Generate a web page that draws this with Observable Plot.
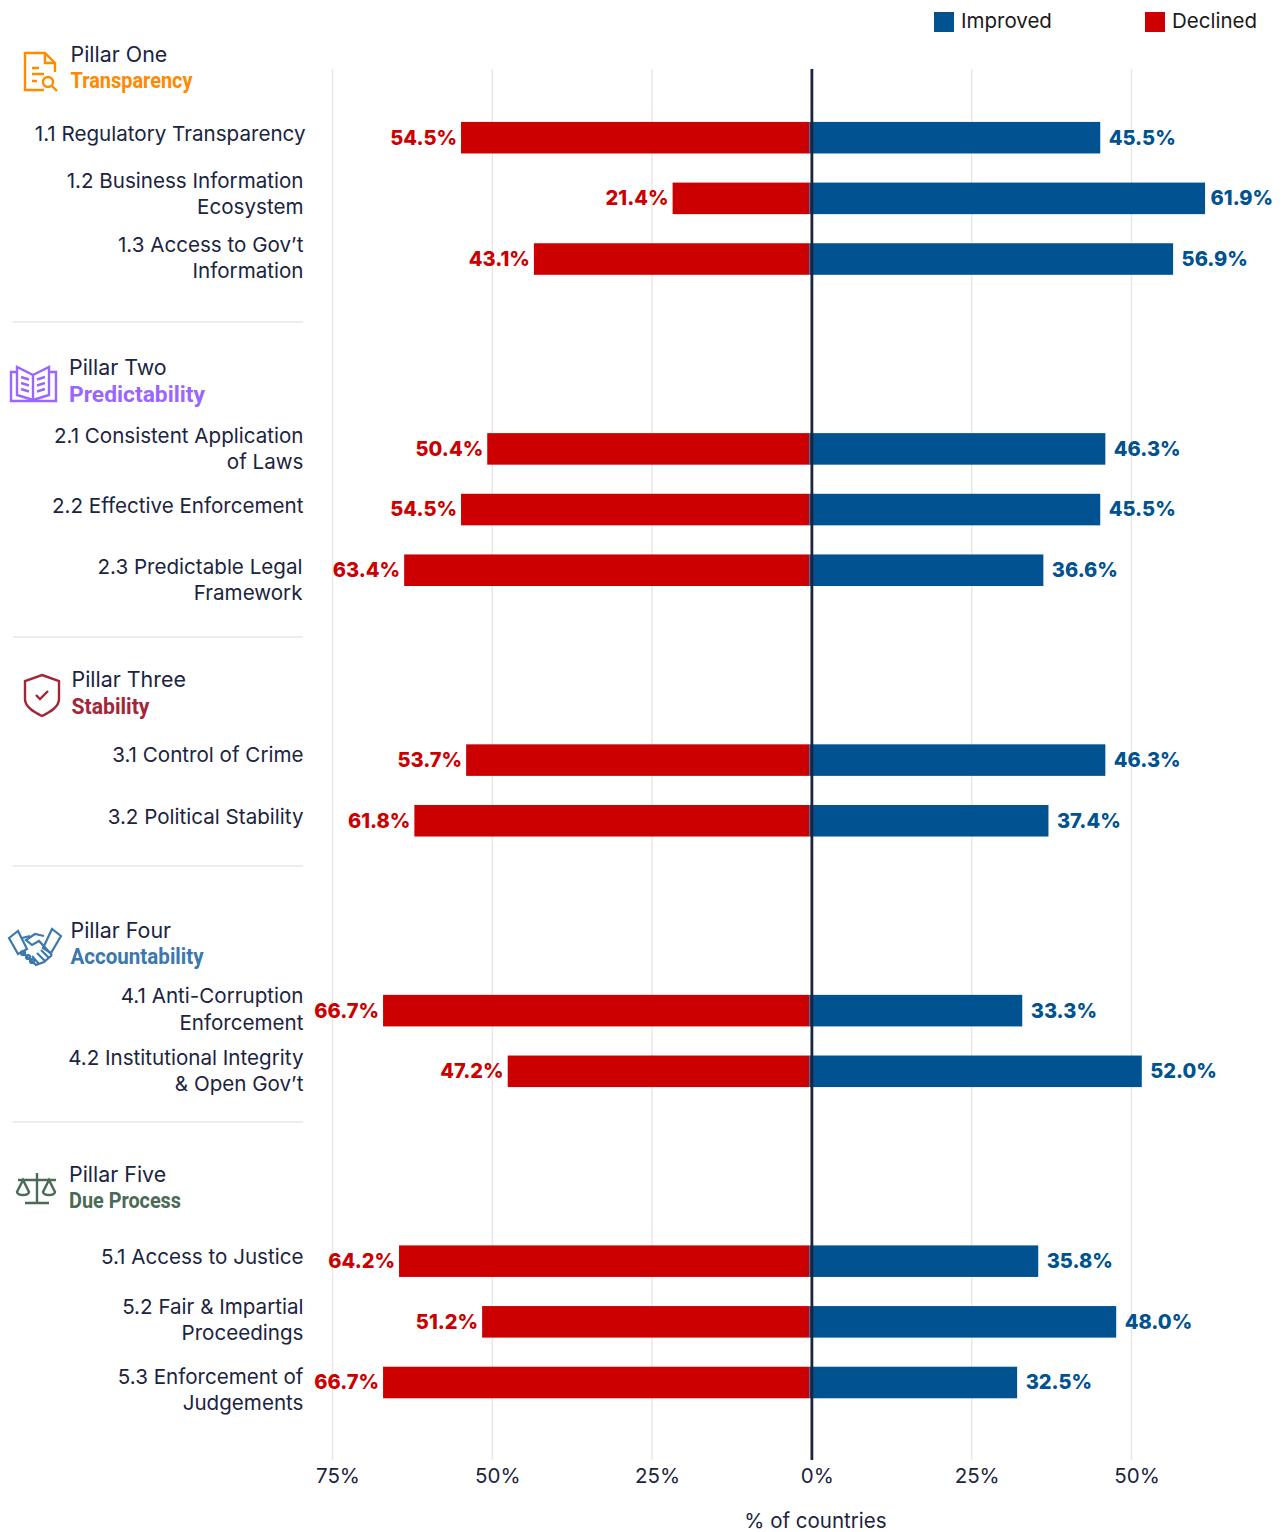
<!DOCTYPE html>
<html><head><meta charset="utf-8">
<script src="https://cdn.jsdelivr.net/npm/d3@7"></script>
<script src="https://cdn.jsdelivr.net/npm/@observablehq/plot@0.6"></script>
<style>
html,body{margin:0;padding:0;background:#fff}
#wrap{position:relative;width:1282px;height:1532px;overflow:hidden}
.lg{position:absolute;top:9px;font:20.5px Inter,sans-serif;color:#1a1a1a;line-height:24px}
.sw{position:absolute;top:12px;width:20px;height:20px}
</style></head><body><div id="wrap"></div>
<script>
const pillarNames = ["Pillar One","Pillar Two","Pillar Three","Pillar Four","Pillar Five"];
const pillarThemes = ["Transparency","Predictability","Stability","Accountability","Due Process"];
const pillarColors = ["#ff8a00","#9966ff","#a32638","#3a78ad","#4a6b55"];
const categories = ["1.1 Regulatory Transparency","1.2 Business Information\nEcosystem","1.3 Access to Gov’t\nInformation",
 "2.1 Consistent Application\nof Laws","2.2 Effective Enforcement","2.3 Predictable Legal\nFramework",
 "3.1 Control of Crime","3.2 Political Stability",
 "4.1 Anti-Corruption\nEnforcement","4.2 Institutional Integrity\n& Open Gov’t",
 "5.1 Access to Justice","5.2 Fair & Impartial\nProceedings","5.3 Enforcement of\nJudgements"];
const pillarOf = [0,0,0,1,1,1,2,2,3,3,4,4,4];
const improved = [45.5,61.9,56.9,46.3,45.5,36.6,46.3,37.4,33.3,52.0,35.8,48.0,32.5];
const declined = [54.5,21.4,43.1,50.4,54.5,63.4,53.7,61.8,66.7,47.2,64.2,51.2,66.7];
const tickValues = [-75,-50,-25,0,25,50];

// layout
const RED="#cc0000", BLUE="#005291", INK="#1b2440", RULE="#eae6e2";
const GAP=2.13;
const slot=i=>i+pillarOf[i]*GAP;
const rows=categories.map((c,i)=>({c,i,slot:slot(i),imp:improved[i],dec:declined[i]}));
const labelDy=[-6,-6.5,-2.5,-2,-5.5,7.5,-6.5,-6,-3,-2,-6,-4,6];
const labelX=[305,303,303,303,303,302,303,303,303,303,303,303,303];
const half=0.26;
const y0=slot(0), y1=slot(categories.length-1);
const barDx=-2;

const sepPx=[322,637,866,1122];
const headerX=[70,68.5,71,70,68.5];
const headName=[-83,-81,-80,-80,-86.5], headTheme=[-57,-55,-54,-54,-61];
const themeWidth=[122,136,78,133,112];

const icons=[
 `<g transform="translate(24,52)" fill="none" stroke="#ff8a00" stroke-width="2.4"><path d="M20 38H1V1H21L31 11V20"/><path d="M21 1V11H31"/><path d="M8 16H15M8 22H20M8 29H13"/><circle cx="24" cy="30" r="5"/><path d="M28 34L33 39"/></g>`,
 `<g transform="translate(10,364)" fill="none" stroke="#9966ff" stroke-width="2.4"><path d="M23 11L7 3V31L23 36L39 31V3Z"/><path d="M23 11V36"/><path d="M7 8H1V37H46V8H39"/><path d="M11 13L19 15.5M11 19L19 21.5M11 25L19 27.5M27 15.5L35 13M27 21.5L35 19M27 27.5L35 25"/></g>`,
 `<g transform="translate(24,673)" fill="none" stroke="#a32638" stroke-width="2.4"><path d="M18 2L35 8V26C35 34 26 39 18 43C10 39 1 34 1 26V8Z"/><path d="M12 22L16 26L24 18"/></g>`,
 `<g transform="translate(8,928)" fill="none" stroke="#3a78ad" stroke-width="2.2"><path d="M1 10L10 3L19 21L10 26Z"/><path d="M53 8L44 1L35 20L43 25Z"/><path d="M36 8L27 6L18 12L24 17L31 13L44 27"/><path d="M14 10L22 8"/><path d="M14 24L28 37L36 34L44 27"/><path d="M24 28L31 36M29 25L37 33M33 22L41 30"/><circle cx="15" cy="25" r="2"/><circle cx="20" cy="29" r="2"/><circle cx="24" cy="33" r="2"/></g>`,
 `<g transform="translate(16,1172)" fill="none" stroke="#4a6b55" stroke-width="2.4"><path d="M21 1V30M9 31H33M2 8H40"/><path d="M7 8L1 20C2 24 12 24 13 20Z"/><path d="M33 8L27 20C28 24 38 24 39 20Z"/></g>`
];

const chrome=()=>{
  const g=document.createElementNS("http://www.w3.org/2000/svg","g");
  g.innerHTML=icons.join("")+sepPx.map(y=>`<line x1="13" x2="303" y1="${y}" y2="${y}" stroke="${RULE}" stroke-width="1.4"/>`).join("");
  return g;
};
const head=pillarNames.map((n,p)=>({n,t:pillarThemes[p],p,c:pillarColors[p],slot:slot(pillarOf.indexOf(p))}));
const condense=w=>(index,scales,values,dims,ctx,next)=>{
  const g=next(index,scales,values,dims,ctx);
  g.querySelectorAll("text").forEach(t=>{t.setAttribute("textLength",w);t.setAttribute("lengthAdjust","spacingAndGlyphs");});
  return g;
};

const plot=Plot.plot({
  width:1282,height:1532,marginLeft:0,marginRight:0,marginTop:69,marginBottom:72,
  style:{fontFamily:"Inter, sans-serif",background:"#fff",color:INK},
  x:{domain:[-75,50],range:[332,1131],axis:null},
  y:{domain:[y0,y1],range:[137.7,1382.5],axis:null},
  marks:[
    Plot.ruleX(tickValues.filter(d=>d!==0),{stroke:RULE,strokeWidth:1.4}),
    Plot.rectX(rows,{x1:d=>-d.dec,x2:0,y1:d=>d.slot-half,y2:d=>d.slot+half,fill:RED,dx:barDx}),
    Plot.rectX(rows,{x1:0,x2:"imp",y1:d=>d.slot-half,y2:d=>d.slot+half,fill:BLUE,dx:barDx}),
    Plot.ruleX([0],{stroke:INK,strokeWidth:2.8}),
    Plot.text(rows,{x:d=>-d.dec,y:"slot",text:d=>d.dec.toFixed(1)+"%",textAnchor:"end",dx:barDx-4.5,fill:RED,fontWeight:800,fontSize:20}),
    Plot.text(rows.filter(d=>d.imp<60),{x:"imp",y:"slot",text:d=>d.imp.toFixed(1)+"%",textAnchor:"start",dx:barDx+8,fill:BLUE,fontWeight:800,fontSize:20}),
    Plot.text(rows.filter(d=>d.imp>=60),{x:"imp",y:"slot",text:d=>d.imp.toFixed(1)+"%",textAnchor:"start",dx:barDx+5,fill:BLUE,fontWeight:800,fontSize:20}),
    ...rows.map((d,i)=>Plot.text([d],{y:"slot",text:"c",frameAnchor:"left",textAnchor:"end",dx:labelX[i],dy:labelDy[i],fill:INK,fontSize:20.6,lineHeight:1.27})),
    ...head.flatMap((h,p)=>[
      Plot.text([h],{y:"slot",text:"n",frameAnchor:"left",textAnchor:"start",dx:headerX[p],dy:headName[p],fill:INK,fontSize:21.4}),
      Plot.text([h],{y:"slot",text:"t",frameAnchor:"left",textAnchor:"start",dx:headerX[p],dy:headTheme[p],fill:h.c,fontSize:22.5,fontWeight:700,fontFamily:"Roboto,sans-serif",render:condense(themeWidth[p])})
    ]),
    Plot.text(tickValues,{x:d=>d,frameAnchor:"bottom",text:d=>Math.abs(d)+"%",dx:5.5,dy:22,fill:INK,fontSize:20.5,textAnchor:"middle"}),
    Plot.text(["% of countries"],{x:()=>0,frameAnchor:"bottom",text:d=>d,dx:3.5,dy:67,fill:INK,fontSize:20.5,textAnchor:"middle"}),
    chrome
  ]
});
const wrap=document.getElementById("wrap");
wrap.appendChild(plot);
const legend=[["Improved",BLUE,934,961],["Declined",RED,1145,1172]];
legend.forEach(([t,c,sx,tx])=>{
  const s=document.createElement("div");s.className="sw";s.style.left=sx+"px";s.style.background=c;wrap.appendChild(s);
  const l=document.createElement("div");l.className="lg";l.style.left=tx+"px";l.textContent=t;wrap.appendChild(l);
});
</script></body></html>
